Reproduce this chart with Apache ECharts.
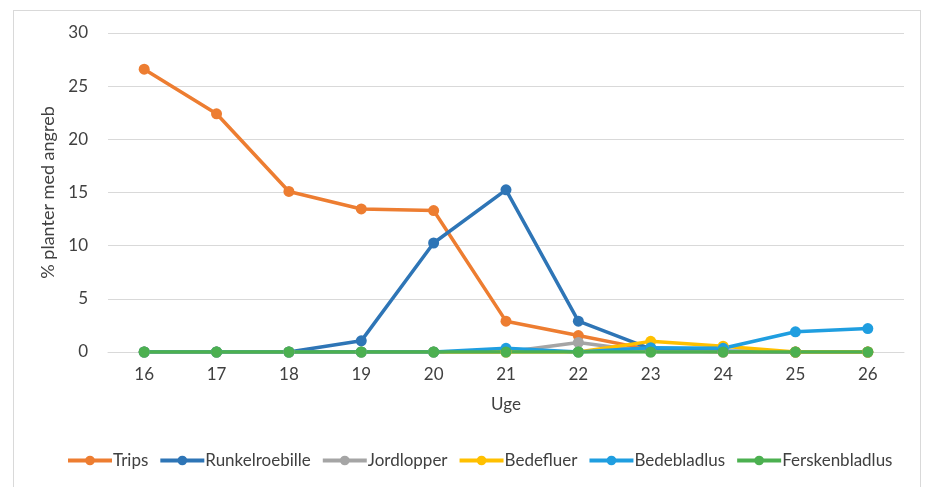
<!DOCTYPE html>
<html>
<head>
<meta charset="utf-8">
<script src="https://cdn.jsdelivr.net/npm/echarts@6/dist/echarts.min.js"></script>
<style>
	html, body { margin: 0; padding: 0; background: #fff; }
	#frame { position: absolute; left: 13px; top: 10px; width: 906px; height: 490px; border: 1px solid #d9d9d9; }
	#chart { position: absolute; left: 0; top: 0; width: 928px; height: 487px; }
</style>
</head>
<body>
<div id="frame"></div>
<div id="chart"></div>
<script>
const weeks = ["16", "17", "18", "19", "20", "21", "22", "23", "24", "25", "26"]
const trips = [26.6, 22.4, 15.1, 13.45, 13.3, 2.9, 1.55, 0.2, 0, 0, 0]
const runkelroebille = [0, 0, 0, 1.05, 10.25, 15.25, 2.9, 0.3, 0.1, 0, 0]
const jordlopper = [0, 0, 0, 0, 0, 0, 0.9, 0, 0, 0, 0]
const bedefluer = [0, 0, 0, 0, 0, 0, 0, 1.0, 0.55, 0, 0]
const bedebladlus = [0, 0, 0, 0, 0, 0.35, 0, 0.4, 0.35, 1.9, 2.2]
const ferskenbladlus = [0, 0, 0, 0, 0, 0, 0, 0, 0, 0, 0]

const font = "Lato, sans-serif"

const makeSeries = (name, data, color) => ({
	name: name,
	type: "line",
	data: data,
	symbol: "circle",
	symbolSize: 11,
	itemStyle: { color: color },
	lineStyle: { width: 3.5, color: color },
	emphasis: { disabled: true },
})

const chartInstance = echarts.init(document.getElementById("chart"))
chartInstance.setOption({
	animation: false,
	grid: { left: 108, right: 24, top: 33, bottom: 135 },
	xAxis: {
		type: "category",
		data: weeks,
		boundaryGap: true,
		name: "Uge",
		nameLocation: "middle",
		nameGap: 44,
		nameTextStyle: { fontFamily: font, fontSize: 17, color: "#404040" },
		axisLine: { lineStyle: { color: "#d9d9d9" } },
		axisTick: { show: false },
		axisLabel: { fontFamily: font, fontSize: 17, color: "#404040", margin: 14 },
	},
	yAxis: {
		type: "value",
		min: 0,
		max: 30,
		interval: 5,
		name: "% planter med angreb",
		nameLocation: "middle",
		nameGap: 40,
		nameTextStyle: { fontFamily: font, fontSize: 18, color: "#404040" },
		axisLine: { show: false },
		axisTick: { show: false },
		axisLabel: { fontFamily: font, fontSize: 17, color: "#404040", margin: 20 },
		splitLine: { lineStyle: { color: "#d9d9d9", width: 1 } },
	},
	legend: {
		bottom: 13,
		left: 61,
		itemWidth: 44,
		itemHeight: 12,
		itemGap: 10,
		lineStyle: { width: 4 },
		textStyle: { fontFamily: font, fontSize: 17, color: "#404040", padding: [0, 0, 0, -4] },
	},
	series: [
		makeSeries("Trips", trips, "#ed7d31"),
		makeSeries("Runkelroebille", runkelroebille, "#2e75b6"),
		makeSeries("Jordlopper", jordlopper, "#a5a5a5"),
		makeSeries("Bedefluer", bedefluer, "#ffc000"),
		makeSeries("Bedebladlus", bedebladlus, "#1f9ee0"),
		makeSeries("Ferskenbladlus", ferskenbladlus, "#4cb050"),
	],
})
</script>
</body>
</html>
